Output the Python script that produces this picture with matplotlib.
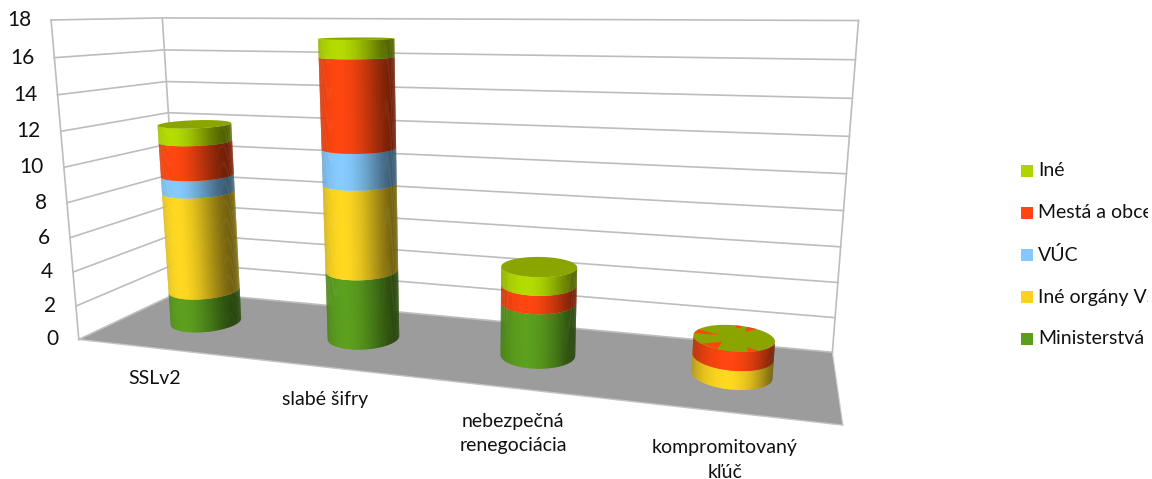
import numpy as np
import matplotlib
matplotlib.use('Agg')
import matplotlib.pyplot as plt
from matplotlib.colors import to_rgb

plt.rcParams['font.family'] = ['Lato', 'DejaVu Sans']

# data
categories = ['SSLv2', 'slabé šifry', 'nebezpečná\nrenegociácia', 'kompromitovaný\nkľúč']
ministerstva = [2, 4, 3, 0]
ine_organy = [6, 5, 0, 1]
vuc = [1, 2, 0, 0]
mesta = [2, 5, 1, 1]
ine = [1, 1, 1, 0]
y_ticks = [0, 2, 4, 6, 8, 10, 12, 14, 16, 18]

series = [ministerstva, ine_organy, vuc, mesta, ine]
colors = ['#5CA01E', '#FFD820', '#85CBFF', '#FF4610', '#B4DC00']
legend_names = ['Iné', 'Mestá a obce', 'VÚC', 'Iné orgány VS', 'Ministerstvá']
legend_colors = ['#B0D400', '#FF4610', '#85C8FF', '#FFD21A', '#5A9E1C']

# camera: (category, depth, value) -> pixel, fitted on the corners of the box
refs = [(0, 0, 0, 78.3, 339.5), (0, 1, 0, 180, 292), (4, 1, 0, 832.7, 351.7), (4, 0, 0, 842.7, 425.7),
        (0, 0, 18, 51, 20), (0, 1, 18, 162, 18), (4, 1, 18, 859, 20.7),
        (0, 0, 8, 67.7, 202.3), (4, 1, 10, 845.7, 173.7)]
rows, rhs = [], []
for X, Y, Z, px, py in refs:
    rows.append([X, Y, Z, 1, 0, 0, 0, 0, -px * X, -px * Y, -px * Z])
    rhs.append(px)
    rows.append([0, 0, 0, 0, X, Y, Z, 1, -py * X, -py * Y, -py * Z])
    rhs.append(py)
cam = np.append(np.linalg.lstsq(np.array(rows), np.array(rhs), rcond=None)[0], 1).reshape(3, 4)


def proj(u, v, z):
    u, v, z = np.broadcast_arrays(np.asarray(u, float), np.asarray(v, float), np.asarray(z, float))
    p = cam @ np.vstack([u.ravel(), v.ravel(), z.ravel(), np.ones(u.size)])
    return p[0] / p[2], p[1] / p[2]


def shade(c, th):
    f = 1 - (0.32 if np.cos(th) < 0 else 0.5) * abs(np.cos(th) + 0.05) ** 2
    return tuple(x * f for x in to_rgb(c))


fig = plt.figure(figsize=(11.52, 4.79), dpi=100)
ax = fig.add_axes([0, 0, 1148 / 1152, 1])
ax.set_xlim(0, 1148)
ax.set_ylim(479, 0)
ax.axis('off')

# floor
ax.fill(*proj([0, 0, 4, 4], [0, 1, 1, 0], 0), color='#9C9C9C', lw=0, zorder=1)
ax.plot(*proj([0, 4], [0, 0], 0), color='#C4C4C4', lw=1, zorder=1)
ax.plot(*proj([4, 4], [0, 1], 0), color='#C8C8C8', lw=0.8, zorder=1)

# walls
grid = '#BDBDBD'
for t in y_ticks:
    ax.plot(*proj([0, 0, 4], [0, 1, 1], t), color=grid, lw=1.2, zorder=2)
    x, y = proj(0, 0, t)
    ax.text(x[0] - 20, y[0], str(t), ha='right', va='center', fontsize=15, color='#111111')
for u, v in [(0, 0), (0, 1), (4, 1)]:
    ax.plot(*proj([u, u], [v, v], [0, 18]), color=grid, lw=1.2, zorder=2)

# cylinders
ru, rv = 0.197, 0.21
n = 160
angles = np.linspace(0, 2 * np.pi, n + 1)
mid = (angles[:-1] + angles[1:]) / 2
step = angles[1] - angles[0]
for i in range(len(categories)):
    cu = i + 0.5
    cv = 0.5
    base = 0
    z = 5 + i
    for s, values in enumerate(series):
        h = values[i]
        if h == 0:
            continue
        for j in range(n):
            # only the strips that face the viewer, each one a bit wider so no seams show
            th = np.array([mid[j], mid[j] + step, mid[j] + step, mid[j]])
            sx, sy = proj(cu + ru * np.cos(th), cv - rv * np.sin(th), [base, base, base + h, base + h])
            area = (sx[1] - sx[0]) * (sy[3] - sy[0]) - (sy[1] - sy[0]) * (sx[3] - sx[0])
            if area <= 0:
                continue
            th = np.array([mid[j], mid[j] + step * 1.6, mid[j] + step * 1.6, mid[j]])
            wx, wy = proj(cu + ru * np.cos(th), cv - rv * np.sin(th), [base, base, base + h, base + h])
            ax.fill(wx, wy, color=shade(colors[s], mid[j]), lw=0, zorder=z)
        base += h
    th = np.linspace(0, 2 * np.pi, 120)
    ax.fill(*proj(cu + ru * np.cos(th), cv - rv * np.sin(th), base), color='#8AA500', lw=0, zorder=z + 0.5)
    if ine[i] == 0:
        # zero height Iné fights with the red top
        for a, wid, depth in [(235, 14, 0.55), (300, 8, 0.3), (85, 6, 0.25), (65, 8, 0.4), (165, 10, 0.6)]:
            a0, a1 = np.radians(a - wid), np.radians(a + wid)
            am = np.radians(a)
            wu = [cu + ru * np.cos(a0), cu + ru * np.cos(a1), cu + ru * (1 - depth) * np.cos(am)]
            wv = [cv + rv * np.sin(a0), cv + rv * np.sin(a1), cv + rv * (1 - depth) * np.sin(am)]
            ax.fill(*proj(wu, wv, base), color='#FF4610', lw=0, zorder=z + 0.6)

# category labels
label_pos = [(155, 378), (325, 399), (513, 434), (725, 460)]
for name, (x, y) in zip(categories, label_pos):
    ax.text(x, y, name, ha='center', va='center', fontsize=14, color='#111111', linespacing=1.5)

# legend
for k, (name, c) in enumerate(zip(legend_names, legend_colors)):
    yc = 171 + 42 * k
    ax.fill([1021, 1033, 1033, 1021], [yc - 6, yc - 6, yc + 6, yc + 6], color=c, lw=0)
    ax.text(1038, yc, name, ha='left', va='center', fontsize=14, color='#111111', clip_on=True)

fig.savefig('out.png', dpi=100, facecolor='white')
